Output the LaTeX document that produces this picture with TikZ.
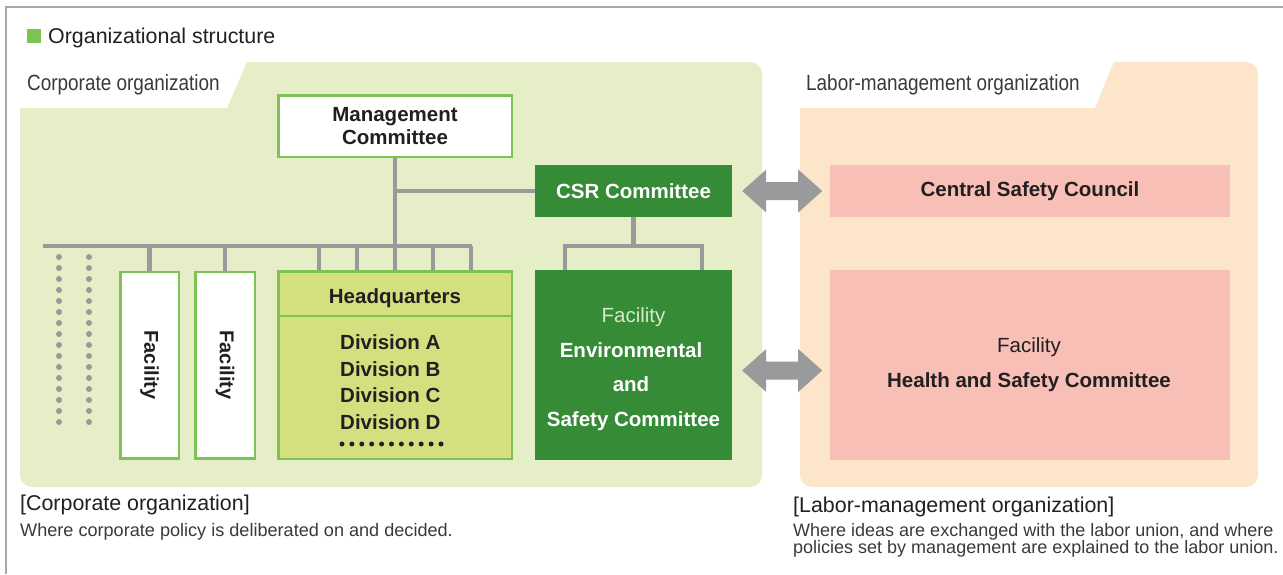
\documentclass[tikz,border=0pt]{standalone}
\usepackage{fontspec}
\setmainfont{Liberation Sans}
\newfontfamily\condfont[FakeStretch=0.86]{Liberation Sans}
\usetikzlibrary{calc}
\definecolor{panelgreen}{HTML}{E5EEC6}
\definecolor{panelpeach}{HTML}{FDE5C9}
\definecolor{bordergreen}{HTML}{7DC353}
\definecolor{darkgreen}{HTML}{368B37}
\definecolor{hqfill}{HTML}{D4E07F}
\definecolor{pinkfill}{HTML}{F8BFB7}
\definecolor{linegray}{HTML}{999A9C}
\definecolor{framegray}{HTML}{A8A8A8}
\definecolor{textdark}{HTML}{231F20}
\definecolor{textgray}{HTML}{3A3A3A}
\definecolor{lightfac}{HTML}{D6E9C9}
\newcommand\boxfont{\fontsize{20.5}{23.5}\selectfont\bfseries}
\newcommand\boxfontreg{\fontsize{20.5}{23.5}\selectfont}
\begin{document}
\begin{tikzpicture}[x=1pt,y=-1pt,
  conn/.style={draw=linegray, line width=4.5pt},
  wbox/.style={draw=bordergreen, fill=white, line width=2.5pt, inner sep=0pt, text=textdark, font=\boxfont},
  hqbox/.style={draw=bordergreen, fill=hqfill, line width=2.5pt, inner sep=0pt},
  gbox/.style={fill=darkgreen, inner sep=0pt, text=white, font=\boxfont},
  pbox/.style={fill=pinkfill, inner sep=0pt, text=textdark, font=\boxfont},
  txt/.style={inner sep=0pt, anchor=base west, text=textdark},
  fatarrow/.style={fill=linegray}
]
\useasboundingbox (0,0) rectangle (1283,574);
\fill[white] (0,0) rectangle (1283,574);
% frame
\draw[framegray, line width=1.3pt] (6,574) -- (6,7) -- (1283,7);
% title
\fill[bordergreen] (27,29) rectangle (41,43);
\node[txt, font=\fontsize{21.4}{24}\selectfont] (title) at (48,43) {Organizational structure};
% panels
\fill[panelgreen] (20,108) -- (227,108) -- (247,62) -- (750,62)
  arc[start angle=-90, end angle=0, radius=12] -- (762,475)
  arc[start angle=0, end angle=90, radius=12] -- (32,487)
  arc[start angle=90, end angle=180, radius=12] -- cycle;
\fill[panelpeach] (800,108) -- (1095,108) -- (1114,62) -- (1246,62)
  arc[start angle=-90, end angle=0, radius=12] -- (1258,475)
  arc[start angle=0, end angle=90, radius=12] -- (812,487)
  arc[start angle=90, end angle=180, radius=12] -- cycle;
\node[txt, text=textgray, font=\condfont\fontsize{22}{24}\selectfont] (corplab) at (27,90) {Corporate organization};
\node[txt, text=textgray, font=\condfont\fontsize{22}{24}\selectfont] (laborlab) at (806,90) {Labor-management organization};
% boxes
\node[wbox, minimum width=233.5pt, minimum height=61.5pt, align=center] (mc) at (395,126) {Management\\Committee};
\node[gbox, minimum width=197pt, minimum height=52pt] (csr) at (633.5,191) {CSR Committee};
\node[gbox, minimum width=197pt, minimum height=190pt] (esc) at (633.5,365) {};
\node[wbox, minimum width=58.5pt, minimum height=186.5pt] (fac1) at (149.5,365) {};
\node[wbox, minimum width=59.5pt, minimum height=186.5pt] (fac2) at (225,365) {};
\node[inner sep=0pt, rotate=-90, text=textdark, font=\fontsize{20}{23}\selectfont\bfseries] (fac1t) at (fac1.center) {Facility};
\node[inner sep=0pt, rotate=-90, text=textdark, font=\fontsize{20}{23}\selectfont\bfseries] (fac2t) at (fac2.center) {Facility};
\node[hqbox, minimum width=233.5pt, minimum height=187.5pt] (hq) at (395,365) {};
\draw[bordergreen, line width=2.5pt] (hq.west |- 0,316) -- (hq.east |- 0,316);
\node[inner sep=0pt, anchor=base, text=textdark, font=\boxfont] (hqt) at (395,303) {Headquarters};
\node[txt, font=\boxfont] (divA) at (340,349) {Division A};
\node[txt, font=\boxfont] (divB) at (340,376) {Division B};
\node[txt, font=\boxfont] (divC) at (340,402.5) {Division C};
\node[txt, font=\boxfont] (divD) at (340,429) {Division D};
\foreach \i in {0,...,10} \fill[textdark] ({342+\i*9.9},444) circle (2.5pt);
% ESC texts
\node[inner sep=0pt, anchor=base, text=lightfac, font=\boxfontreg] (escf) at (633.5,322) {Facility};
\node[inner sep=0pt, anchor=base, text=white, font=\boxfont] (esc1) at (631,357) {Environmental};
\node[inner sep=0pt, anchor=base, text=white, font=\boxfont] (esc2) at (631,391) {and};
\node[inner sep=0pt, anchor=base, text=white, font=\boxfont] (esc3) at (633.5,426) {Safety Committee};
% labor boxes
\node[pbox, minimum width=400pt, minimum height=52pt] (csc) at (1030,191) {Central Safety Council};
\node[pbox, minimum width=400pt, minimum height=190pt] (hsc) at (1030,365) {};
\node[inner sep=0pt, anchor=base, text=textdark, font=\boxfontreg] (hscf) at (1029,352) {Facility};
\node[inner sep=0pt, anchor=base, text=textdark, font=\boxfont] (hsct) at (1029,387) {Health and Safety Committee};
% connectors
\coordinate (busL) at (43,246);
\coordinate (busR) at (472,246);
\draw[conn] (busL) -- (busR);
\draw[conn] (mc.south) -- (mc.south |- busL);
\draw[conn] (mc.south |- csr.west) -- (csr.west);
\draw[conn] (fac1.north |- busL) -- (fac1.north);
\draw[conn] (fac2.north |- busL) -- (fac2.north);
\foreach \dx in {-76,-38,0,38,76}
  \draw[conn] ([xshift=\dx pt]hq.north |- busL) -- ([xshift=\dx pt]hq.north);
\coordinate (cb) at (csr.south |- busL);
\draw[conn] (csr.south) -- (cb);
\draw[conn] ([xshift=-68.5pt]esc.north) |- ([xshift=68.5pt]esc.north |- cb) -- ([xshift=68.5pt]esc.north);
% dotted columns
\foreach \x in {59,89} \foreach \i in {0,...,15} \fill[linegray] (\x,{257+\i*11}) circle (3pt);
% fat arrows
\fill[fatarrow] ([xshift=10pt]csr.east) -- ++(24,-21.5) -- ++(0,12.5) -- ++(32,0) -- ++(0,-12.5) -- ++(24,21.5)
  -- ++(-24,21.5) -- ++(0,-12.5) -- ++(-32,0) -- ++(0,12.5) -- cycle;
\fill[fatarrow] ($(esc.east)+(10,5.5)$) -- ++(24,-21.5) -- ++(0,12.5) -- ++(32,0) -- ++(0,-12.5) -- ++(24,21.5)
  -- ++(-24,21.5) -- ++(0,-12.5) -- ++(-32,0) -- ++(0,12.5) -- cycle;
% bottom texts
\node[txt, font=\fontsize{21.4}{24}\selectfont] (corph) at (20,510) {[Corporate organization]};
\node[txt, text=textgray, font=\fontsize{18.1}{17}\selectfont] (corpd) at (20,536) {Where corporate policy is deliberated on and decided.};
\node[txt, font=\fontsize{21.4}{24}\selectfont] (labh) at (793,512) {[Labor-management organization]};
\node[txt, text=textgray, font=\fontsize{18}{17}\selectfont] (labd1) at (793,536) {Where ideas are exchanged with the labor union, and where};
\node[txt, text=textgray, font=\fontsize{18}{17}\selectfont] (labd2) at (793,553) {policies set by management are explained to the labor union.};
\end{tikzpicture}
\end{document}
